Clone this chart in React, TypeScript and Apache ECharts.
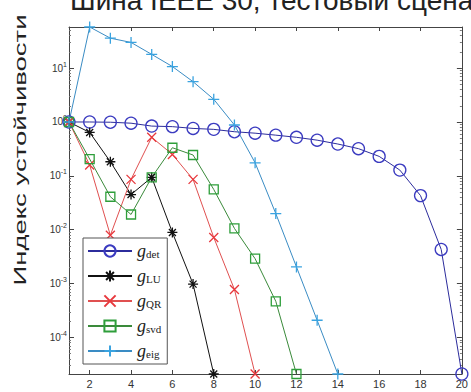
import React, { useEffect, useRef } from "react";
import * as echarts from "echarts";

const steps = [1, 2, 3, 4, 5, 6, 7, 8, 9, 10, 11, 12, 13, 14, 15, 16, 17, 18, 19, 20];
const xTicks = [2, 4, 6, 8, 10, 12, 14, 16, 18, 20];
const gDet = [1.0, 1.0, 0.99, 0.95, 0.84, 0.82, 0.76, 0.73, 0.66, 0.62, 0.57, 0.52, 0.46, 0.39, 0.32, 0.23, 0.128, 0.043, 0.0043, 2.1e-5];
const gLU = [1.0, 0.64, 0.183, 0.045, 0.094, 0.0089, 0.00098, 2.1e-5];
const gQR = [1.0, 0.159, 0.0079, 0.086, 0.52, 0.25, 0.086, 0.0072, 0.00078, 2.1e-5];
const gSvd = [1.0, 0.205, 0.041, 0.0192, 0.094, 0.333, 0.244, 0.056, 0.0106, 0.0029, 0.00047, 2.1e-5];
const gEig = [1.0, 58, 36, 30, 18, 10.7, 5.6, 2.64, 0.88, 0.175, 0.02, 0.00204, 0.000209, 2.1e-5];
const yMin = 2.1e-5;
const yMax = 58;
const titleText = "Шина IEEE 30, тестовый сценарий";
const yLabelText = "Индекс устойчивости";

const seriesDefs = [
  { key: "det", data: gDet, line: "#2c2c9c", mark: "#3b3bc0", symbol: "circle", size: 12 },
  { key: "LU", data: gLU, line: "#111111", mark: "#111111", symbol: "path://M5 0L5 10M0 5L10 5M1.5 1.5L8.5 8.5M8.5 1.5L1.5 8.5", size: 10 },
  { key: "QR", data: gQR, line: "#e05050", mark: "#e8383d", symbol: "path://M0 0L10 10M10 0L0 10", size: 9 },
  { key: "svd", data: gSvd, line: "#3a8a3a", mark: "#2e9e3a", symbol: "rect", size: 9 },
  { key: "eig", data: gEig, line: "#3a8cc4", mark: "#3aa3e0", symbol: "path://M5 0L5 10M0 5L10 5", size: 11 },
];

const axisColor = "#444";

export default function App() {
  const ref = useRef<HTMLDivElement>(null);
  useEffect(() => {
    if (!ref.current) return;
    const chart = echarts.init(ref.current, null, { renderer: "svg" });
    const yLabelFmt = (v: number) => {
      const e = Math.round(Math.log10(v));
      return `{b|10}{e|${e}}`;
    };
    const yRich = {
      b: { fontSize: 10, color: "#333", fontFamily: "Liberation Sans, Arial" },
      e: { fontSize: 7, color: "#333", fontFamily: "Liberation Sans, Arial", padding: [0, 0, 8, 0] },
    };
    chart.setOption({
      animation: false,
      backgroundColor: "#fff",
      grid: { left: 69, right: 9, top: 27, bottom: 18, containLabel: false },
      graphic: [
        {
          type: "text",
          x: 70,
          y: 0.5,
          style: {
            text: titleText,
            fontSize: 28,
            fontFamily: "Liberation Sans, Arial",
            fill: "#222",
            align: "left",
            verticalAlign: "middle",
          },
        },
        {
          type: "text",
          x: 20.5,
          y: 150,
          rotation: Math.PI / 2,
          scaleX: 1.72,
          scaleY: 1.05,
          style: {
            text: yLabelText,
            fontSize: 16,
            fontFamily: "Liberation Sans, Arial",
            fill: "#222",
            align: "center",
            verticalAlign: "middle",
          },
        },
      ],
      legend: {
        orient: "vertical",
        left: 83,
        top: 238,
        backgroundColor: "#fff",
        borderColor: "#555",
        borderWidth: 1,
        borderRadius: 0,
        padding: [4, 6, 4, 4],
        itemWidth: 44,
        itemHeight: 14,
        itemGap: 7,
        data: seriesDefs.map((s) => s.key),
        formatter: (name: string) => `{g|g}{s|${name}}`,
        textStyle: {
          rich: {
            g: { fontSize: 18, fontStyle: "italic", fontFamily: "Liberation Serif, Times New Roman", color: "#222" },
            s: { fontSize: 11, fontFamily: "Liberation Serif, Times New Roman", color: "#222", padding: [5, 0, 0, 0] },
          },
        },
      },
      xAxis: [
        {
          type: "value",
          min: 1,
          max: 20,
          position: "bottom",
          axisLine: { show: true, onZero: false, lineStyle: { color: axisColor, width: 1 } },
          axisTick: { show: true, inside: true, length: 4, customValues: xTicks, lineStyle: { color: axisColor } },
          axisLabel: { show: true, customValues: xTicks, margin: 4, fontSize: 11, color: "#333", fontFamily: "Liberation Sans, Arial" },
          splitLine: { show: false },
        },
        {
          type: "value",
          min: 1,
          max: 20,
          position: "top",
          axisLine: { show: true, onZero: false, lineStyle: { color: axisColor, width: 1 } },
          axisTick: { show: true, inside: true, length: 4, customValues: xTicks, lineStyle: { color: axisColor } },
          axisLabel: { show: false },
          splitLine: { show: false },
        },
      ],
      yAxis: [
        {
          type: "log",
          logBase: 10,
          min: yMin,
          max: yMax,
          position: "left",
          axisLine: { show: true, onZero: false, lineStyle: { color: axisColor, width: 1 } },
          axisTick: { show: true, inside: true, length: 5, lineStyle: { color: axisColor } },
          minorTick: { show: true, splitNumber: 9, length: 2, lineStyle: { color: "#777" } },
          axisLabel: { show: true, margin: 2, showMinLabel: false, showMaxLabel: false, formatter: yLabelFmt, rich: yRich },
          splitLine: { show: false },
          minorSplitLine: { show: false },
        },
        {
          type: "log",
          logBase: 10,
          min: yMin,
          max: yMax,
          position: "right",
          axisLine: { show: true, onZero: false, lineStyle: { color: axisColor, width: 1 } },
          axisTick: { show: true, inside: true, length: 5, lineStyle: { color: axisColor } },
          minorTick: { show: true, splitNumber: 9, length: 2, lineStyle: { color: "#777" } },
          axisLabel: { show: false },
          splitLine: { show: false },
        },
      ],
      series: seriesDefs.map((s) => ({
        name: s.key,
        type: "line",
        xAxisIndex: 0,
        yAxisIndex: 0,
        data: s.data.map((v, i) => [steps[i], v]),
        symbol: s.symbol,
        symbolSize: s.size,
        showAllSymbol: true,
        clip: false,
        lineStyle: { color: s.line, width: 1 },
        itemStyle: { color: "none", borderColor: s.mark, borderWidth: 1.3 },
        emphasis: { disabled: true },
      })),
    });
    return () => chart.dispose();
  }, []);
  return <div ref={ref} style={{ width: 471, height: 392, position: "absolute", left: 0, top: 0 }} />;
}
